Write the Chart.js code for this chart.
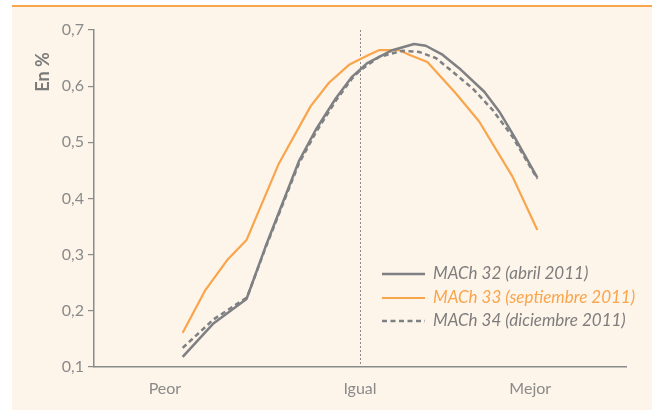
<!DOCTYPE html>
<html lang="es">
<head>
<meta charset="utf-8">
<title>MACh: expectativas</title>
<script src="https://cdn.jsdelivr.net/npm/chart.js@4.4.1/dist/chart.umd.min.js"></script>
<style>
  html, body { margin: 0; padding: 0; background: #ffffff; }
  canvas { display: block; }
</style>
</head>
<body>
<canvas id="grafico" width="652" height="410"></canvas>
<script>
// Posición en la escala Peor (-1) … Igual (0) … Mejor (1) y porcentaje de respuestas
const xMach32 = [-1.0, -0.825, -0.64, -0.533, -0.345, -0.25, -0.137, -0.044, 0.041, 0.182, 0.305, 0.371, 0.465, 0.559, 0.701, 0.785, 0.87, 1.0];
const yMach32 = [0.118, 0.178, 0.221, 0.314, 0.466, 0.522, 0.578, 0.617, 0.641, 0.664, 0.675, 0.672, 0.656, 0.632, 0.590, 0.555, 0.510, 0.437];

const xMach33 = [-1.0, -0.872, -0.75, -0.64, -0.458, -0.279, -0.175, -0.062, 0.051, 0.107, 0.22, 0.277, 0.38, 0.541, 0.672, 0.86, 1.0];
const yMach33 = [0.161, 0.237, 0.290, 0.326, 0.462, 0.564, 0.606, 0.638, 0.656, 0.664, 0.664, 0.656, 0.643, 0.587, 0.537, 0.439, 0.344];

const xMach34 = [-1.0, -0.825, -0.637, -0.533, -0.345, -0.25, -0.137, -0.044, 0.0, 0.107, 0.239, 0.333, 0.428, 0.521, 0.635, 0.747, 0.86, 1.0];
const yMach34 = [0.134, 0.185, 0.224, 0.312, 0.462, 0.517, 0.574, 0.614, 0.628, 0.652, 0.663, 0.661, 0.650, 0.626, 0.596, 0.558, 0.510, 0.435];

const nombresSeries = ['MACh 32 (abril 2011)', 'MACh 33 (septiembre 2011)', 'MACh 34 (diciembre 2011)'];

// Rótulos del eje horizontal y su posición en la escala
const etiquetasX = ['Peor', 'Igual', 'Mejor'];
const valoresEtiquetasX = [-1.1, 0, 0.96];

// Marcas del eje vertical
const marcasY = [0.1, 0.2, 0.3, 0.4, 0.5, 0.6, 0.7];

const GRIS = '#7f8083';
const NARANJA = '#f9a54c';
const CREMA = '#fdf4ea';
const TEXTO = '#8a8a8a';

const aPuntos = (xs, ys) => xs.map((x, i) => ({ x: x, y: ys[i] }));

// Fondo: franja crema con filete naranja superior
const fondo = {
  id: 'fondo',
  beforeDraw(chart) {
    const ctx = chart.ctx;
    ctx.save();
    ctx.fillStyle = '#ffffff';
    ctx.fillRect(0, 0, chart.width, chart.height);
    ctx.fillStyle = CREMA;
    ctx.fillRect(12, 6, chart.width - 12, chart.height - 6);
    ctx.fillStyle = NARANJA;
    ctx.fillRect(12, 5, chart.width - 12, 2);
    ctx.restore();
  }
};

// Línea punteada vertical en "Igual"
const lineaIgual = {
  id: 'lineaIgual',
  beforeDatasetsDraw(chart) {
    const { ctx, chartArea, scales } = chart;
    const x = Math.round(scales.x.getPixelForValue(0)) + 0.5;
    ctx.save();
    ctx.strokeStyle = '#8a8a8a';
    ctx.lineWidth = 1;
    ctx.setLineDash([2, 2]);
    ctx.beginPath();
    ctx.moveTo(x, chartArea.top);
    ctx.lineTo(x, chartArea.bottom);
    ctx.stroke();
    ctx.restore();
  }
};

// Título del eje vertical y leyenda (en el orden de nombresSeries)
const rotulos = {
  id: 'rotulos',
  afterDraw(chart) {
    const ctx = chart.ctx;
    ctx.save();
    ctx.translate(43, 72);
    ctx.rotate(-Math.PI / 2);
    ctx.fillStyle = '#7b7b7b';
    ctx.font = 'bold 18px Lato';
    ctx.textAlign = 'center';
    ctx.textBaseline = 'middle';
    ctx.fillText('En %', 0, 0);
    ctx.restore();

    const filas = [274, 298, 321];
    ctx.save();
    nombresSeries.forEach((nombre, i) => {
      const ds = chart.data.datasets.find(d => d.label === nombre);
      const y = filas[i];
      ctx.strokeStyle = ds.borderColor;
      ctx.lineWidth = ds.borderWidth;
      ctx.setLineDash(ds.borderDash || []);
      ctx.beginPath();
      ctx.moveTo(382, y);
      ctx.lineTo(425, y);
      ctx.stroke();
      ctx.setLineDash([]);
      ctx.fillStyle = ds.borderColor === NARANJA ? NARANJA : '#7d7d7d';
      ctx.font = 'italic 17px Lato';
      ctx.textAlign = 'left';
      ctx.textBaseline = 'middle';
      ctx.fillText(nombre, 433, y);
    });
    ctx.restore();
  }
};

Chart.defaults.font.family = 'Lato';

new Chart(document.getElementById('grafico'), {
  type: 'line',
  data: {
    datasets: [
      {
        label: nombresSeries[1],
        data: aPuntos(xMach33, yMach33),
        borderColor: NARANJA,
        borderWidth: 2.2,
        order: 3
      },
      {
        label: nombresSeries[0],
        data: aPuntos(xMach32, yMach32),
        borderColor: GRIS,
        borderWidth: 2.5,
        order: 2
      },
      {
        label: nombresSeries[2],
        data: aPuntos(xMach34, yMach34),
        borderColor: GRIS,
        borderWidth: 2.5,
        borderDash: [5, 3.5],
        order: 1
      }
    ]
  },
  options: {
    responsive: false,
    animation: false,
    devicePixelRatio: 1,
    layout: { padding: { left: 0, top: 30, right: 26, bottom: 0 } },
    elements: {
      point: { radius: 0, hoverRadius: 0 },
      line: { tension: 0, fill: false, borderCapStyle: 'butt', borderJoinStyle: 'round' }
    },
    plugins: {
      legend: { display: false },
      tooltip: { enabled: false },
      title: { display: false }
    },
    scales: {
      x: {
        type: 'linear',
        min: -1.5,
        max: 1.5,
        afterFit(scale) { scale.height = 43; },
        afterBuildTicks(scale) {
          scale.ticks = valoresEtiquetasX.map(v => ({ value: v }));
        },
        grid: { display: true, drawOnChartArea: false, drawTicks: false },
        border: { display: true, color: '#8a8a8a', width: 1.5 },
        ticks: {
          autoSkip: false,
          maxRotation: 0,
          padding: 12,
          color: TEXTO,
          font: { size: 16 },
          callback(value) {
            const i = valoresEtiquetasX.indexOf(value);
            return i >= 0 ? etiquetasX[i] : '';
          }
        }
      },
      y: {
        min: 0.1,
        max: 0.7,
        afterFit(scale) { scale.width = 94; },
        afterBuildTicks(scale) {
          scale.ticks = marcasY.map(v => ({ value: v }));
        },
        grid: {
          display: true,
          drawOnChartArea: false,
          drawTicks: true,
          tickLength: 6,
          color: '#8a8a8a',
          lineWidth: 1.2
        },
        border: { display: true, color: '#8a8a8a', width: 1.5 },
        ticks: {
          padding: 4,
          color: TEXTO,
          font: { size: 16 },
          callback(value) {
            return value.toFixed(1).replace('.', ',');
          }
        }
      }
    }
  },
  plugins: [fondo, lineaIgual, rotulos]
});
</script>
</body>
</html>
